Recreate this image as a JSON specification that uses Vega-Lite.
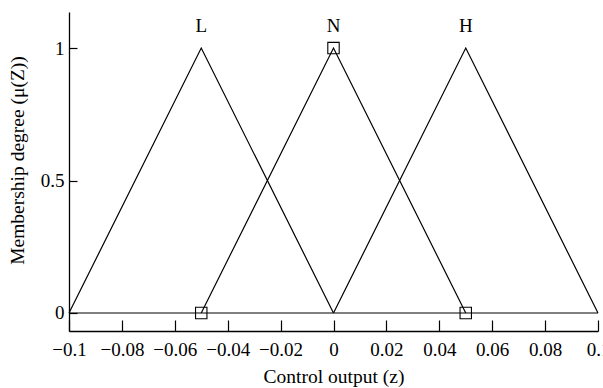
{
  "$schema": "https://vega.github.io/schema/vega-lite/v6.json",
  "width": 529,
  "height": 319,
  "autosize": {"type": "none"},
  "padding": {"left": 69, "top": 12, "right": 5, "bottom": 57},
  "background": "white",
  "config": {
    "view": {"stroke": null},
    "font": "Liberation Serif",
    "axis": {
      "labelFont": "Liberation Serif",
      "titleFont": "Liberation Serif",
      "labelColor": "black",
      "titleColor": "black",
      "domainColor": "black",
      "tickColor": "black",
      "labelFontSize": 19,
      "titleFontSize": 19.5,
      "titleFontWeight": "normal",
      "grid": false,
      "domainWidth": 1.3,
      "tickWidth": 1.2
    }
  },
  "datasets": {
    "lines": [
      {"series": "L", "z": -0.1, "mu": 0},
      {"series": "L", "z": -0.05, "mu": 1},
      {"series": "L", "z": 0, "mu": 0},
      {"series": "N", "z": -0.05, "mu": 0},
      {"series": "N", "z": 0, "mu": 1},
      {"series": "N", "z": 0.05, "mu": 0},
      {"series": "H", "z": 0, "mu": 0},
      {"series": "H", "z": 0.05, "mu": 1},
      {"series": "H", "z": 0.1, "mu": 0},
      {"series": "base", "z": -0.1, "mu": 0},
      {"series": "base", "z": 0.1, "mu": 0}
    ],
    "squares": [
      {"z": -0.05, "mu": 0},
      {"z": 0, "mu": 1},
      {"z": 0.05, "mu": 0}
    ],
    "labels": [
      {"z": -0.05, "mu": 1.085, "label": "L"},
      {"z": 0, "mu": 1.085, "label": "N"},
      {"z": 0.05, "mu": 1.085, "label": "H"}
    ]
  },
  "layer": [
    {
      "data": {"name": "lines"},
      "mark": {"type": "line", "color": "black", "strokeWidth": 1.2},
      "encoding": {
        "x": {
          "field": "z", "type": "quantitative",
          "scale": {"domain": [-0.1, 0.1], "nice": false, "zero": false},
          "axis": {
            "title": "Control output (z)",
            "values": [-0.1, -0.08, -0.06, -0.04, -0.02, 0, 0.02, 0.04, 0.06, 0.08, 0.1],
            "format": "~g",
            "tickSize": -11,
            "labelPadding": 20,
            "titlePadding": 8,
            "labelFlush": false,
            "labelOverlap": false
          }
        },
        "y": {
          "field": "mu", "type": "quantitative",
          "scale": {"domain": [-0.068, 1.136], "nice": false, "zero": false},
          "axis": {
            "title": "Membership degree (μ(Z))",
            "values": [0, 0.5, 1],
            "format": "~g",
            "tickSize": -8,
            "labelPadding": 13,
            "titleX": -46,
            "titleY": 148,
            "titleAngle": -90,
            "titleBaseline": "alphabetic",
            "titleAlign": "center",
            "labelFlush": false
          }
        },
        "detail": {"field": "series"}
      }
    },
    {
      "data": {"name": "squares"},
      "mark": {"type": "point", "shape": "square", "filled": false, "color": "black", "strokeWidth": 1.1, "size": 130, "opacity": 1},
      "encoding": {
        "x": {"field": "z", "type": "quantitative"},
        "y": {"field": "mu", "type": "quantitative"}
      }
    },
    {
      "data": {"name": "labels"},
      "mark": {"type": "text", "font": "Liberation Serif", "fontSize": 19, "color": "black", "baseline": "middle"},
      "encoding": {
        "x": {"field": "z", "type": "quantitative"},
        "y": {"field": "mu", "type": "quantitative"},
        "text": {"field": "label"}
      }
    }
  ]
}
